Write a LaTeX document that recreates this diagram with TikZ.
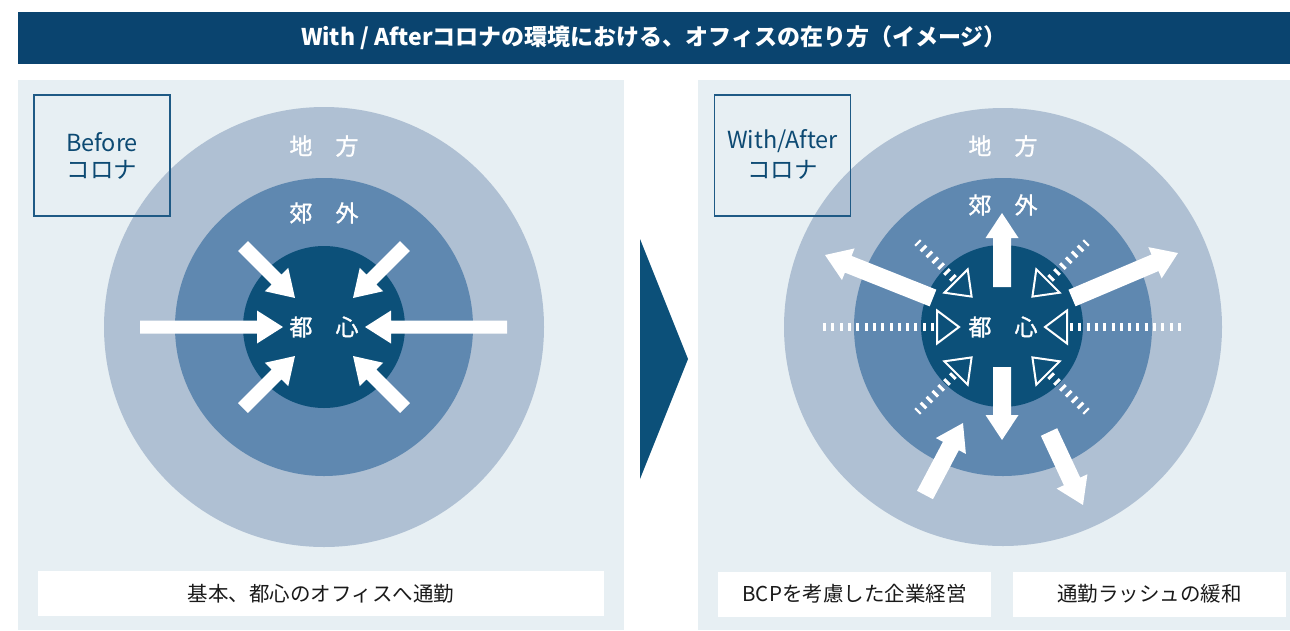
\documentclass[tikz,border=0pt]{standalone}
\usepackage{fontspec}
\setmainfont{Noto Sans CJK JP}
\newfontfamily\ringfont{Noto Sans CJK JP}[FakeBold=1.3]
\definecolor{titlebg}{HTML}{0A446F}
\definecolor{panel}{HTML}{E7EFF3}
\definecolor{outerc}{HTML}{AFC0D3}
\definecolor{midc}{HTML}{5F88B0}
\definecolor{innerc}{HTML}{0C5079}
\definecolor{boxline}{HTML}{1F5A85}
\definecolor{labtext}{HTML}{0D4A73}
\definecolor{bodytext}{HTML}{1A1A1A}
\newcommand{\fatarrow}[7]{%
  \pgfmathsetmacro\faang{atan2(#2-#4,#3-#1)}%
  \pgfmathsetmacro\falen{veclen(#3-#1,#4-#2)}%
  \pgfmathsetmacro\fab{\falen-#7}%
  \fill[white,shift={(#1,#2)},rotate=\faang] (0,-#5/2) -- (\fab,-#5/2) -- (\fab,-#6/2) -- (\falen,0) -- (\fab,#6/2) -- (\fab,#5/2) -- (0,#5/2) -- cycle;}
\newcommand{\hollowtri}[1]{%
  \begin{scope}[shift={(1002,327)},rotate=#1]
    \draw[white,line width=2,line join=miter] (65,-16.5) -- (65,16.5) -- (43,0) -- cycle;
  \end{scope}}
\newcommand{\tickline}[3]{%
  \begin{scope}[shift={(1002,327)},rotate=#1]
    \draw[white,line width=8,dash pattern=on 3 off 5.3] (#2,0) -- (#3,0);
  \end{scope}}
\begin{document}
\begin{tikzpicture}[x=1pt,y=-1pt,
  ringlbl/.style={text=white,font=\ringfont\fontsize{23}{23}\selectfont,inner sep=0pt},
  labbox/.style={draw=boxline,line width=1.3,minimum width=136,minimum height=121,inner sep=0pt},
  labtxt/.style={text=labtext,font=\fontsize{23.5}{24}\selectfont,inner sep=0pt},
  botbox/.style={fill=white,minimum height=45,inner sep=0pt,text=bodytext,font=\fontsize{20.5}{21}\selectfont}]
\useasboundingbox (0,0) rectangle (1290,630);
\fill[white] (0,0) rectangle (1290,630);
% title
\node[fill=titlebg,minimum width=1272,minimum height=52,inner sep=0pt,text=white,font=\bfseries\fontsize{23}{23}\selectfont] (title) at (654,38) {With / Afterコロナの環境における、オフィスの在り方（イメージ）};
% panels
\fill[panel] (18,80) rectangle (624,630);
\fill[panel] (698,80) rectangle (1290,630);
% chevron
\fill[innerc] (640,239) -- (688,359) -- (640,479) -- cycle;
% left circles
\fill[outerc] (324,327) circle[radius=220];
\fill[midc] (324,327) circle[radius=149];
\fill[innerc] (324,327) circle[radius=81];
% right circles
\fill[outerc] (1003,327) circle[radius=219];
\fill[midc] (1003,327) circle[radius=149];
\fill[innerc] (1002,326) circle[radius=81];
% label boxes
\node[labbox] (lbox) at (102,155.5) {};
\node[labbox] (rbox) at (782.5,155.5) {};
\node[labtxt] (lb1) at (102,142) {Before};
\node[labtxt] (lb2) at (102,170) {コロナ};
\node[labtxt] (rb1) at (782.5,141) {With/After};
\node[labtxt] (rb2) at (782.5,170) {コロナ};
% ring labels
\node[ringlbl] (lchiho) at (324,146) {地　方};
\node[ringlbl] (lkogai) at (324,213) {郊　外};
\node[ringlbl] (ltoshin) at (324,327) {都　心};
\node[ringlbl] (rchiho) at (1003,146) {地　方};
\node[ringlbl] (rkogai) at (1003,205) {郊　外};
\node[ringlbl] (rtoshin) at (1003,327) {都　心};
% left arrows (inward)
\fatarrow{140}{327}{283}{327}{13}{33}{26}
\fatarrow{507}{327}{365}{327}{13}{33}{26}
\fatarrow{243}{246}{295}{298}{14}{33}{26}
\fatarrow{405}{246}{353}{298}{14}{33}{26}
\fatarrow{243}{408}{295}{356}{14}{33}{26}
\fatarrow{405}{408}{353}{356}{14}{33}{26}
% right: tick lines
\tickline{180}{68}{184}
\tickline{0}{68}{184}
\tickline{135}{68}{120}
\tickline{45}{68}{120}
\tickline{225}{68}{120}
\tickline{315}{68}{120}
% right: hollow triangles
\hollowtri{180}
\hollowtri{0}
\hollowtri{135}
\hollowtri{45}
\hollowtri{225}
\hollowtri{315}
% right arrows
\fatarrow{1002}{287}{1002}{213}{18}{33}{25}
\fatarrow{1002}{367}{1002}{440}{18}{33}{25}
\fatarrow{933}{298}{825}{255}{18}{34}{25}
\fatarrow{1072}{298}{1178}{253}{18}{34}{25}
\fatarrow{925}{495}{963}{423}{18}{34}{26}
\fatarrow{1049}{432}{1083}{505}{18}{34}{26}
% bottom boxes
\node[botbox,minimum width=566] (lbot) at (321,593.5) {基本、都心のオフィスへ通勤};
\node[botbox,minimum width=273] (rbot1) at (854.5,594) {BCPを考慮した企業経営};
\node[botbox,minimum width=273] (rbot2) at (1149.5,594) {通勤ラッシュの緩和};
\end{tikzpicture}
\end{document}
